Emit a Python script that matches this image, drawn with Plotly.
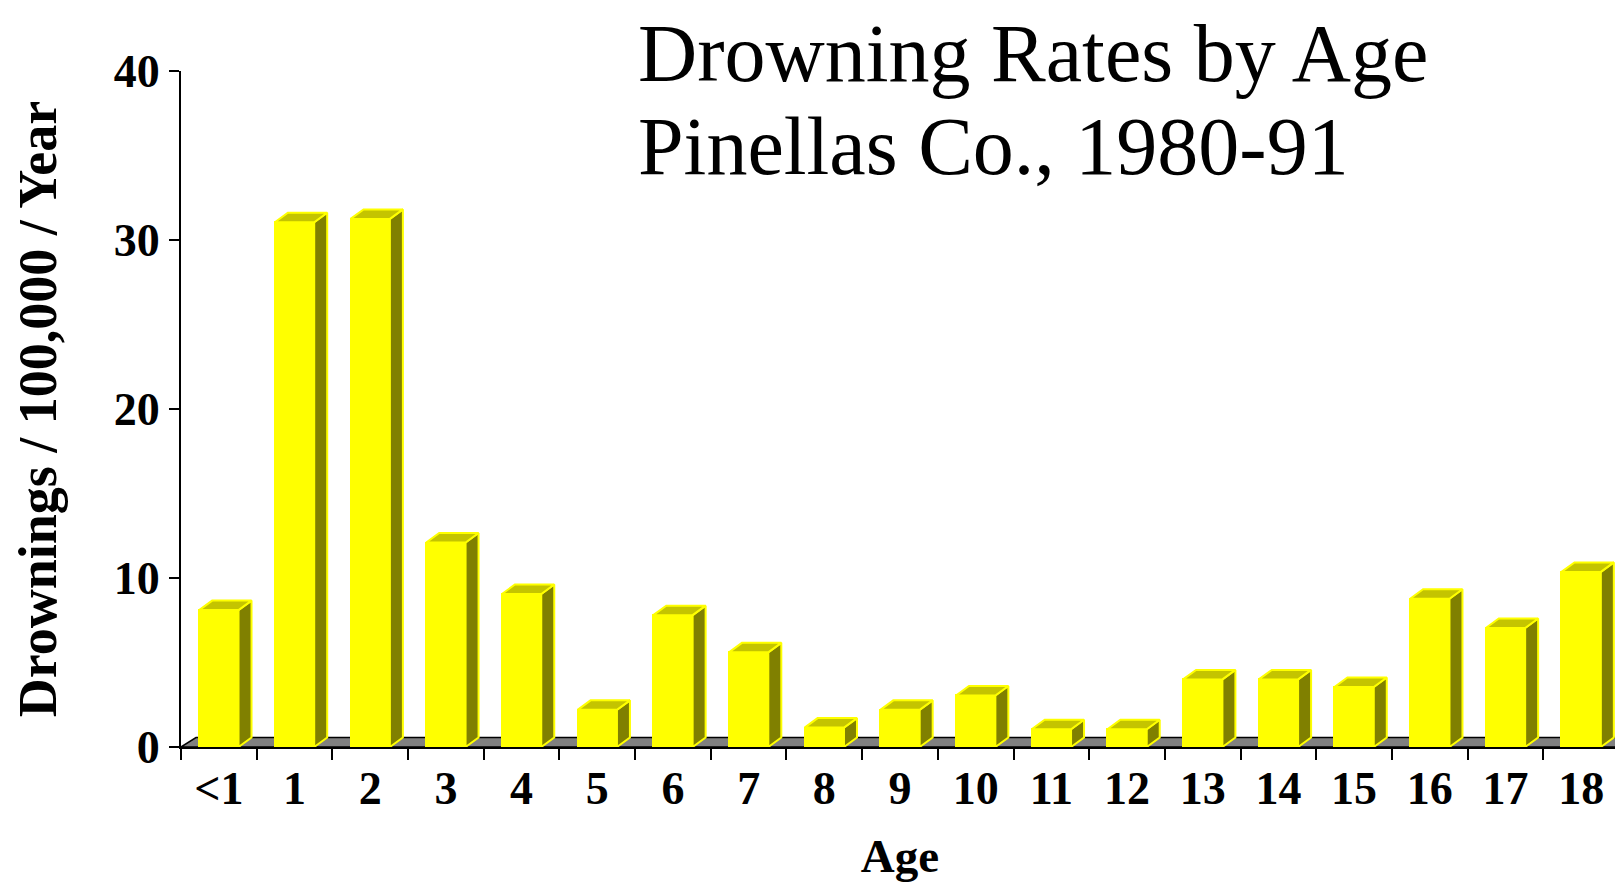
import plotly.graph_objects as go

categories = ["<1", "1", "2", "3", "4", "5", "6", "7", "8", "9", "10",
              "11", "12", "13", "14", "15", "16", "17", "18"]
rates = [8.1, 31.05, 31.25, 12.1, 9.05, 2.2, 7.8, 5.6, 1.15, 2.2, 3.05,
         1.05, 1.05, 4.0, 4.0, 3.55, 8.77, 7.04, 10.36]
y_ticks = [0, 10, 20, 30, 40]
title_line1 = "Drowning Rates by Age"
title_line2 = "Pinellas Co., 1980-91"
y_title = "Drownings / 100,000 / Year"
x_title = "Age"

# style / geometry
W, H = 1623, 883
margin = dict(l=173, r=12, t=63, b=144)
plot_w = W - margin["l"] - margin["r"]
plot_h = H - margin["t"] - margin["b"]
n = len(categories)
xr = [-0.5, n - 0.5]
yr = [0, 40]
px_per_x = plot_w / (xr[1] - xr[0])
px_per_y = plot_h / (yr[1] - yr[0])
depth_dx = 13 / px_per_x
depth_dy = 9.5 / px_per_y
floor_dx = 15 / px_per_x
half_w = 0.26

FRONT = "#FFFF00"
TOP = "#C4C400"
SIDE = "#808000"
FLOOR = "#808080"
FONT = "Liberation Serif"
TITLE_SIZE = 82

xs = list(range(n))

side_x, side_y, top_x, top_y = [], [], [], []
for c, v in zip(xs, rates):
    r = c + half_w
    l = c - half_w
    side_x += [r, r + depth_dx, r + depth_dx, r, r, None]
    side_y += [0, depth_dy, v + depth_dy, v, 0, None]
    top_x += [l, r, r + depth_dx, l + depth_dx, l, None]
    top_y += [v, v, v + depth_dy, v + depth_dy, v, None]

fig = go.Figure()
fig.add_trace(go.Bar(
    x=xs, y=rates, width=2 * half_w,
    marker=dict(color=FRONT, line=dict(color=FRONT, width=2)),
    hoverinfo="skip", showlegend=False,
))
fig.add_trace(go.Scatter(
    x=side_x, y=side_y, mode="lines", fill="toself", fillcolor=SIDE,
    line=dict(color=FRONT, width=2), hoverinfo="skip", showlegend=False,
))
fig.add_trace(go.Scatter(
    x=top_x, y=top_y, mode="lines", fill="toself", fillcolor=TOP,
    line=dict(color=FRONT, width=2), hoverinfo="skip", showlegend=False,
))

# floor
fig.add_shape(
    type="path", xref="x", yref="y", layer="below",
    path=(f"M {xr[0]},0 L {xr[1]},0 L {xr[1] + floor_dx},{depth_dy} "
          f"L {xr[0] + floor_dx},{depth_dy} Z"),
    fillcolor=FLOOR, line=dict(color="black", width=1.5),
)

# title (two lines, positioned by baseline in pixels)
title_x = (629 - margin["l"]) / plot_w
for txt, baseline_px in [(title_line1, 73), (title_line2, 166)]:
    mid_px = baseline_px - 0.3375 * TITLE_SIZE
    fig.add_annotation(
        text=txt, xref="paper", yref="paper",
        x=title_x, y=1 - (mid_px - margin["t"]) / plot_h,
        xanchor="left", yanchor="middle", showarrow=False, borderpad=0,
        font=dict(family=FONT, size=TITLE_SIZE, color="black"),
    )

fig.update_layout(
    width=W, height=H, margin=margin,
    paper_bgcolor="white", plot_bgcolor="white",
    bargap=0, showlegend=False,
    font=dict(family=FONT, color="black"),
)
fig.update_xaxes(
    range=xr, tickvals=xs, ticktext=categories, ticks="",
    minor=dict(tickvals=[i - 0.5 for i in range(n + 1)], ticks="outside",
               ticklen=11, tickwidth=2, tickcolor="black", showgrid=False),
    showline=True, linecolor="black", linewidth=2, showgrid=False,
    zeroline=False,
    tickfont=dict(family=FONT, size=46, weight="bold"),
    title=dict(text=x_title, font=dict(family=FONT, size=47, weight="bold"),
               standoff=26),
)
fig.update_yaxes(
    range=yr, tickvals=y_ticks, ticks="outside", ticklen=10, tickwidth=2,
    tickcolor="black", showline=True, linecolor="black", linewidth=2,
    showgrid=False, zeroline=False,
    tickfont=dict(family=FONT, size=46, weight="bold"),
    title=dict(text=y_title, font=dict(family=FONT, size=54, weight="bold"),
               standoff=40),
)

fig.write_html("out.html")
